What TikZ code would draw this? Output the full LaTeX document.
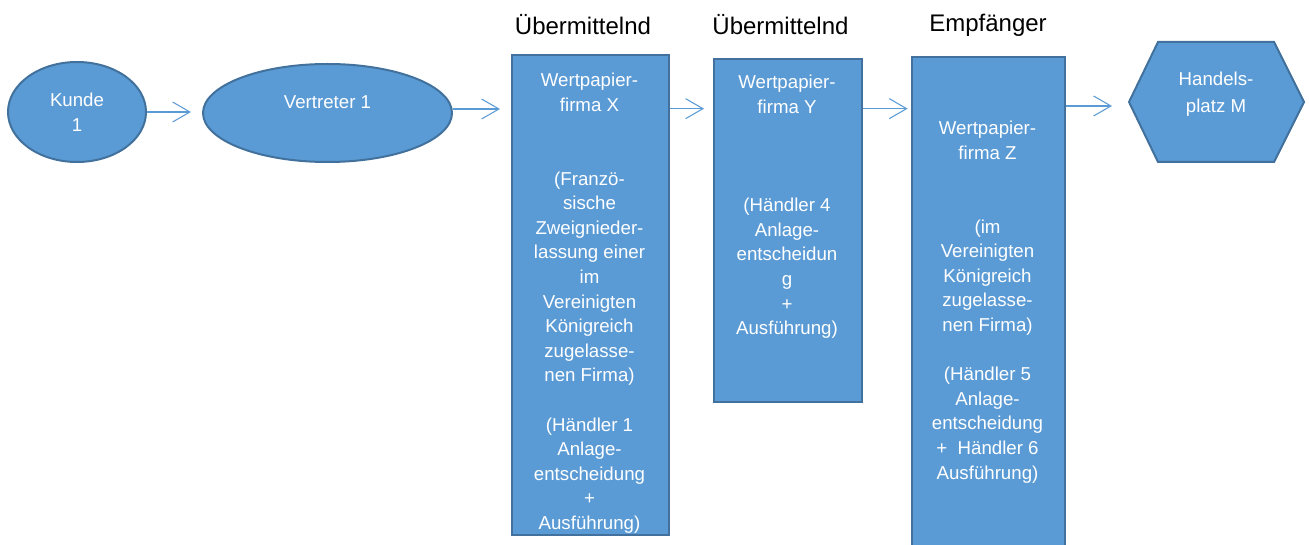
\documentclass[tikz,border=0pt]{standalone}
\usepackage{fontspec}
\setmainfont{Liberation Sans}
\usetikzlibrary{arrows.meta,shapes.geometric}
\definecolor{boxfill}{HTML}{5B9BD5}
\definecolor{boxline}{HTML}{41719C}
\definecolor{arrowcol}{HTML}{5B9BD5}
\tikzset{
  shapestyle/.style={fill=boxfill, draw=boxline, line width=1.5pt},
  boxstyle/.style={shapestyle, rectangle, inner sep=0pt, anchor=north west},
  ellstyle/.style={shapestyle, ellipse, inner sep=0pt},
  txt/.style={text=white, align=center, inner sep=0pt, font=\fontsize{14}{18.45}\selectfont},
  title/.style={text=black, inner sep=0pt, font=\fontsize{18}{22}\selectfont},
  arr/.style={draw=arrowcol, line width=0.8pt, -{Straight Barb[length=13pt,width=15pt]}}
}
\begin{document}
\begin{tikzpicture}[x=0.75pt,y=-0.75pt]
\useasboundingbox (0,0) rectangle (1309,545);
\begin{scope}
\clip (0,0) rectangle (1309,545);
% ellipses
\node[ellstyle, minimum width=103.5pt, minimum height=75pt, txt] (K) at (77,112) {Kunde\\1};
\node[ellstyle, minimum width=186.75pt, minimum height=73.5pt] (V) at (327.5,113) {};
\node[txt] (Vt) at (327.5,102) {Vertreter 1};
% boxes
\node[boxstyle, minimum width=117.75pt, minimum height=360pt] (X) at (511,54) {};
\node[boxstyle, minimum width=111pt, minimum height=257.25pt] (Y) at (713,58) {};
\node[boxstyle, minimum width=114.75pt, minimum height=400pt] (Z) at (911,56) {};
% hexagon
\coordinate (Hw) at (1129,102);
\draw[shapestyle] (Hw) -- (1158,42) -- (1274,42) -- (1304,102) -- (1274,162) -- (1158,162) -- cycle;
\node[txt, font=\fontsize{14}{20.25}\selectfont] (H) at (1216,94) {Handels-\\platz M};
% box texts
\node[txt, anchor=north] (Xt) at (589.5,73) {Wertpapier-\\firma X\\\mbox{}\\\mbox{}\\(Franzö-\\sische\\Zweignieder-\\lassung einer\\im\\Vereinigten\\Königreich\\zugelasse-\\nen Firma)\\\mbox{}\\(Händler 1\\Anlage-\\entscheidung\\+\\Ausführung)};
\node[txt, anchor=north] (Yt) at (787,75) {Wertpapier-\\firma Y\\\mbox{}\\\mbox{}\\\mbox{}\\(Händler 4\\Anlage-\\entscheidun\\g\\+\\Ausführung)};
\node[txt, anchor=north] (Zt) at (987.5,121) {Wertpapier-\\firma Z\\\mbox{}\\\mbox{}\\(im\\Vereinigten\\Königreich\\zugelasse-\\nen Firma)\\\mbox{}\\(Händler 5\\Anlage-\\entscheidung\\+\ \ Händler 6\\Ausführung)};
% titles
\node[title] (T1) at (583,25) {Übermittelnd};
\node[title] (T2) at (780.5,25) {Übermittelnd};
\node[title] (T3) at (988,25) {Empfänger};
% arrows
\draw[arr, shorten >=8.25pt] (K.east) -- (K.east -| V.west);
\draw[arr, shorten >=8.25pt] ([yshift=3pt]V.east) -- ([yshift=3pt]V.east -| X.west);
\draw[arr, shorten >=6.75pt] ([yshift=-41pt]X.north east) -- ([yshift=-41pt]X.north east -| Y.west);
\draw[arr, shorten >=2.5pt] ([yshift=-38pt]Y.north east) -- ([yshift=-38pt]Y.north east -| Z.west);
\draw[arr, shorten >=12.75pt] ([yshift=-37.5pt]Z.north east) -- ([yshift=-37.5pt]Z.north east -| Hw);
\end{scope}
\end{tikzpicture}
\end{document}
